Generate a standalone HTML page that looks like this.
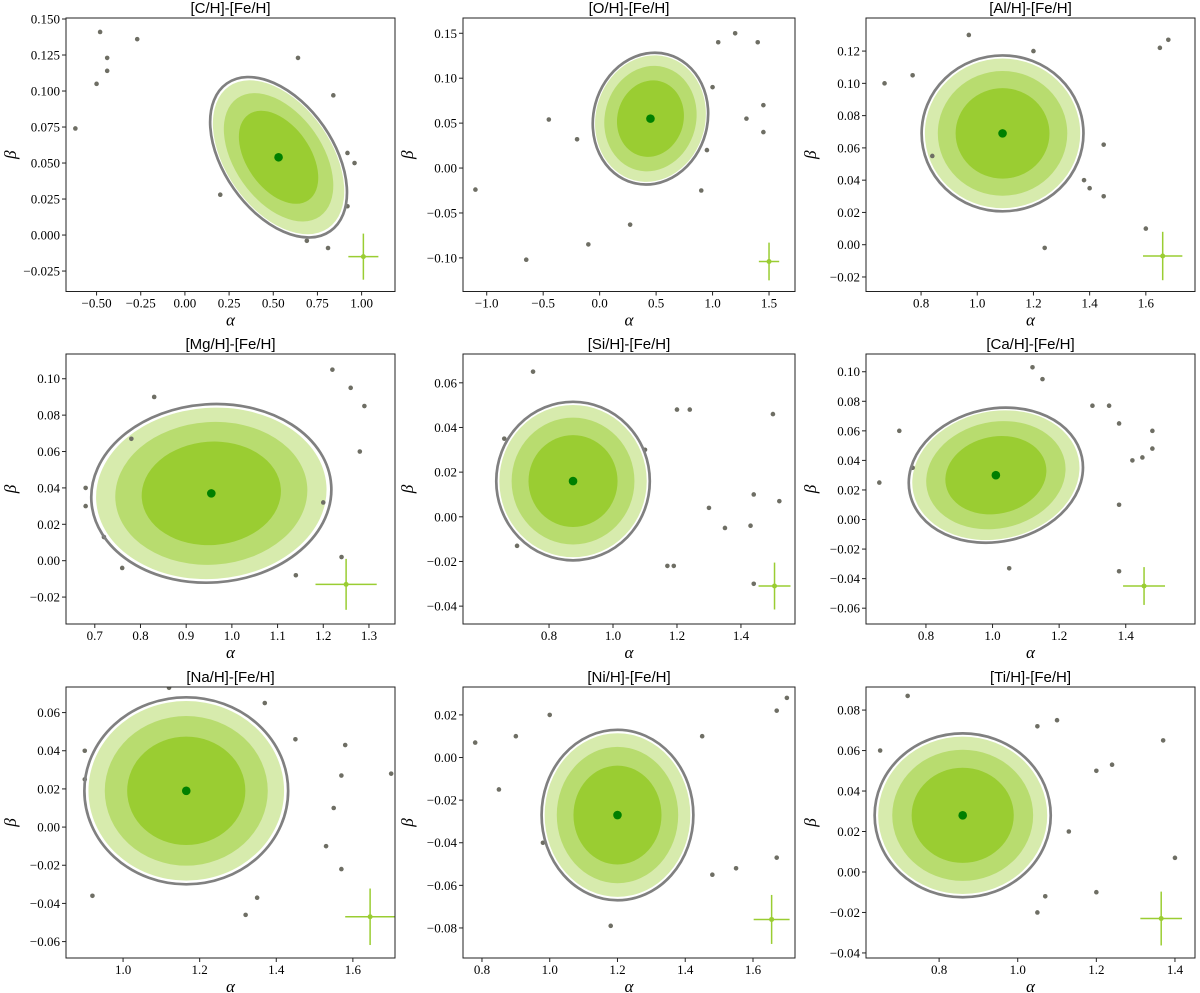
<!DOCTYPE html>
<html><head><meta charset="utf-8">
<style>
body{margin:0;background:#fff;}
svg{display:block;}
</style></head>
<body>
<svg id="fig" width="1200" height="993" viewBox="0 0 1200 993" xmlns="http://www.w3.org/2000/svg"></svg>
<script>
// ---- data ----
const titles = ["[C/H]-[Fe/H]","[O/H]-[Fe/H]","[Al/H]-[Fe/H]","[Mg/H]-[Fe/H]","[Si/H]-[Fe/H]","[Ca/H]-[Fe/H]","[Na/H]-[Fe/H]","[Ni/H]-[Fe/H]","[Ti/H]-[Fe/H]"];
const xDomains = [[-0.673,1.189],[-1.21,1.73],[0.604,1.775],[0.637,1.357],[0.531,1.569],[0.62,1.608],[0.851,1.71],[0.744,1.724],[0.614,1.451]];
const yDomains = [[-0.0392,0.1507],[-0.1374,0.167],[-0.029,0.1405],[-0.0348,0.1136],[-0.048,0.0729],[-0.0707,0.112],[-0.0686,0.0734],[-0.0941,0.0331],[-0.0425,0.0914]];
const xTicks = [[-0.5,-0.25,0,0.25,0.5,0.75,1.0],[-1,-0.5,0,0.5,1,1.5],[0.8,1.0,1.2,1.4,1.6],[0.7,0.8,0.9,1.0,1.1,1.2,1.3],[0.8,1.0,1.2,1.4],[0.8,1.0,1.2,1.4],[1.0,1.2,1.4,1.6],[0.8,1.0,1.2,1.4,1.6],[0.8,1.0,1.2,1.4]];
const xDec = [2,1,1,1,1,1,1,1,1];
const yTicks = [[-0.025,0,0.025,0.05,0.075,0.1,0.125,0.15],[-0.1,-0.05,0,0.05,0.1,0.15],[-0.02,0,0.02,0.04,0.06,0.08,0.1,0.12],[-0.02,0,0.02,0.04,0.06,0.08,0.1],[-0.04,-0.02,0,0.02,0.04,0.06],[-0.06,-0.04,-0.02,0,0.02,0.04,0.06,0.08,0.1],[-0.06,-0.04,-0.02,0,0.02,0.04,0.06],[-0.08,-0.06,-0.04,-0.02,0,0.02],[-0.04,-0.02,0,0.02,0.04,0.06,0.08]];
const yDec = [3,2,2,2,2,2,2,2,2];
// ellipse: center x, center y, semi-axis (x units), semi-axis (y units), rotation deg
const centerX = [0.53,0.45,1.09,0.955,0.875,1.01,1.165,1.2,0.86];
const centerY = [0.054,0.055,0.069,0.037,0.016,0.03,0.019,-0.027,0.028];
const ellRx = [0.51,0.505,0.288,0.263,0.24,0.264,0.266,0.224,0.224];
const ellRy = [0.038,0.074,0.0483,0.049,0.0355,0.045,0.049,0.040,0.0405];
const ellRot = [55,15,0,-4,0,-12,0,0,0];
// error cross
const errX = [1.01,1.5,1.66,1.25,1.505,1.455,1.645,1.655,1.365];
const errY = [-0.015,-0.104,-0.007,-0.013,-0.031,-0.045,-0.047,-0.076,-0.023];
const errXE = [0.085,0.09,0.07,0.067,0.05,0.063,0.065,0.053,0.053];
const errYE = [0.016,0.021,0.015,0.014,0.0105,0.0128,0.0148,0.0115,0.0133];
// outliers
const outliers = [
 [[-0.62,0.074],[-0.5,0.105],[-0.48,0.141],[-0.44,0.123],[-0.44,0.114],[-0.27,0.136],[0.84,0.097],[0.92,0.02],[0.96,0.05],[0.64,0.123],[0.2,0.028],[0.92,0.057],[0.81,-0.009],[0.69,-0.004]],
 [[-1.1,-0.024],[-0.65,-0.102],[-0.1,-0.085],[0.27,-0.063],[-0.45,0.054],[-0.2,0.032],[1.05,0.14],[1.2,0.15],[1.3,0.055],[1.45,0.07],[1.45,0.04],[1.4,0.14],[0.9,-0.025],[1.0,0.09],[0.95,0.02]],
 [[0.67,0.1],[0.77,0.105],[0.84,0.055],[0.97,0.13],[1.24,-0.002],[1.4,0.035],[1.45,0.03],[1.45,0.062],[1.6,0.01],[1.65,0.122],[1.68,0.127],[1.38,0.04],[1.2,0.12]],
 [[0.68,0.04],[0.68,0.03],[0.72,0.013],[0.76,-0.004],[0.78,0.067],[0.83,0.09],[1.22,0.105],[1.26,0.095],[1.29,0.085],[1.28,0.06],[1.14,-0.008],[1.24,0.002],[1.2,0.032]],
 [[0.66,0.035],[0.7,-0.013],[0.75,0.065],[1.17,-0.022],[1.19,-0.022],[1.2,0.048],[1.24,0.048],[1.3,0.004],[1.35,-0.005],[1.43,-0.004],[1.44,0.01],[1.52,0.007],[1.5,0.046],[1.44,-0.03],[1.1,0.03]],
 [[0.66,0.025],[0.72,0.06],[0.76,0.035],[1.05,-0.033],[1.12,0.103],[1.15,0.095],[1.3,0.077],[1.35,0.077],[1.38,0.065],[1.42,0.04],[1.45,0.042],[1.48,0.06],[1.38,0.01],[1.38,-0.035],[1.48,0.048]],
 [[0.9,0.025],[0.9,0.04],[0.92,-0.036],[1.32,-0.046],[1.45,0.046],[1.57,0.027],[1.58,0.043],[1.55,0.01],[1.53,-0.01],[1.7,0.028],[1.37,0.065],[1.12,0.073],[1.57,-0.022],[1.35,-0.037]],
 [[0.78,0.007],[0.85,-0.015],[0.9,0.01],[0.98,-0.04],[1.18,-0.079],[1.48,-0.055],[1.55,-0.052],[1.67,-0.047],[1.67,0.022],[1.7,0.028],[1.45,0.01],[1.0,0.02]],
 [[0.65,0.06],[0.72,0.087],[1.05,-0.02],[1.07,-0.012],[1.2,0.05],[1.2,-0.01],[1.24,0.053],[1.37,0.065],[1.4,0.007],[1.13,0.02],[1.1,0.075],[1.05,0.072]]
];
// ---- layout ----
const colL=[66,463,866], colR=[395,795,1195];
const rowT=[18,354,687], rowB=[291.5,624,958];
const SERIF='font-family:"Liberation Serif","DejaVu Serif",serif;';
const SANS='font-family:"Liberation Sans","DejaVu Sans",sans-serif;';
const NS="http://www.w3.org/2000/svg";
const fig=document.getElementById('fig');
function mk(tag,attrs,parent){const e=document.createElementNS(NS,tag);for(const k in attrs)e.setAttribute(k,attrs[k]);(parent||fig).appendChild(e);return e;}
function fmt(v,d){let s=Math.abs(v).toFixed(d);return (v<-1e-9?"\u2212":"")+s;}
for(let i=0;i<9;i++){
  const c=i%3,r=Math.floor(i/3);
  const L=colL[c],R=colR[c],T=rowT[r],B=rowB[r];
  const sx=v=>L+(v-xDomains[i][0])/(xDomains[i][1]-xDomains[i][0])*(R-L);
  const sy=v=>B-(v-yDomains[i][0])/(yDomains[i][1]-yDomains[i][0])*(B-T);
  const g=mk('g',{});
  
  
  const clipId='clip'+i;
  const cp=mk('clipPath',{id:clipId},g);mk('rect',{x:L,y:T,width:R-L,height:B-T},cp);
  const pg=mk('g',{'clip-path':'url(#'+clipId+')'},g);
  const cx=sx(centerX[i]),cy=sy(centerY[i]);
  const rx=ellRx[i]*(R-L)/(xDomains[i][1]-xDomains[i][0]);
  const ry=ellRy[i]*(B-T)/(yDomains[i][1]-yDomains[i][0]);
  const rot=`rotate(${ellRot[i]} ${cx} ${cy})`;
  const cloud=mk('ellipse',{cx:cx,cy:cy,rx:rx*0.96,ry:ry*0.96,fill:'#9acd32','fill-opacity':0.4,transform:rot},pg);
  
  
  const mid=mk('ellipse',{cx:cx,cy:cy,rx:rx*0.8,ry:ry*0.8,fill:'#9acd32','fill-opacity':0.5,transform:rot},pg);
  
  
  const core=mk('ellipse',{cx:cx,cy:cy,rx:rx*0.58,ry:ry*0.58,fill:'#9acd32','fill-opacity':1,transform:rot},pg);
  
  
  outliers[i].forEach(p=>{
    const d=mk('circle',{cx:sx(p[0]),cy:sy(p[1]),r:2.3,fill:'#6e6e64'},pg);
    
    
  });
  const el=mk('ellipse',{cx:cx,cy:cy,rx:rx,ry:ry,fill:'none',stroke:'#808080','stroke-width':2.7,transform:rot},pg);
  
  
  const cd=mk('circle',{cx:cx,cy:cy,r:4.3,fill:'#008000'},pg);
  
  
  const ex=sx(errX[i]),ey=sy(errY[i]);
  const eg=mk('g',{stroke:'#9acd32','stroke-width':1.5},pg);
  
  
  mk('line',{x1:sx(errX[i]-errXE[i]),x2:sx(errX[i]+errXE[i]),y1:ey,y2:ey},eg);
  mk('line',{x1:ex,x2:ex,y1:sy(errY[i]-errYE[i]),y2:sy(errY[i]+errYE[i])},eg);
  mk('circle',{cx:ex,cy:ey,r:2.5,fill:'#9acd32',stroke:'none'},eg);
  const fr=mk('rect',{x:L,y:T,width:R-L,height:B-T,fill:'none',stroke:'#222','stroke-width':1},g);
  
  
  xTicks[i].forEach(v=>{
    const x=sx(v);
    mk('line',{x1:x,x2:x,y1:B,y2:B+4,stroke:'#222'},g);
    const t=mk('text',{x:x,y:B+16,'text-anchor':'middle',style:SERIF+'font-size:13px;fill:#000'},g);t.textContent=fmt(v,xDec[i]);
    
    
  });
  yTicks[i].forEach(v=>{
    const y=sy(v);
    mk('line',{x1:L-4,x2:L,y1:y,y2:y,stroke:'#222'},g);
    const t=mk('text',{x:L-6,y:y+4.5,'text-anchor':'end',style:SERIF+'font-size:13px;fill:#000'},g);t.textContent=fmt(v,yDec[i]);
    
    
  });
  const tt=mk('text',{x:(L+R)/2,y:T-5,'text-anchor':'middle',style:SANS+'font-size:15px;fill:#000'},g);tt.textContent=titles[i];
  
  
  const xl=mk('text',{x:(L+R)/2,y:B+34,'text-anchor':'middle',style:SERIF+'font-style:italic;font-size:17px;fill:#000'},g);xl.textContent='α';
  
  
  const yx=L-50,yy=(T+B)/2;
  const yl=mk('text',{x:yx,y:yy,'text-anchor':'middle',style:SERIF+'font-style:italic;font-size:17px;fill:#000',transform:`rotate(-90 ${yx} ${yy})`},g);yl.textContent='β';
  
  
}
</script>
</body></html>
